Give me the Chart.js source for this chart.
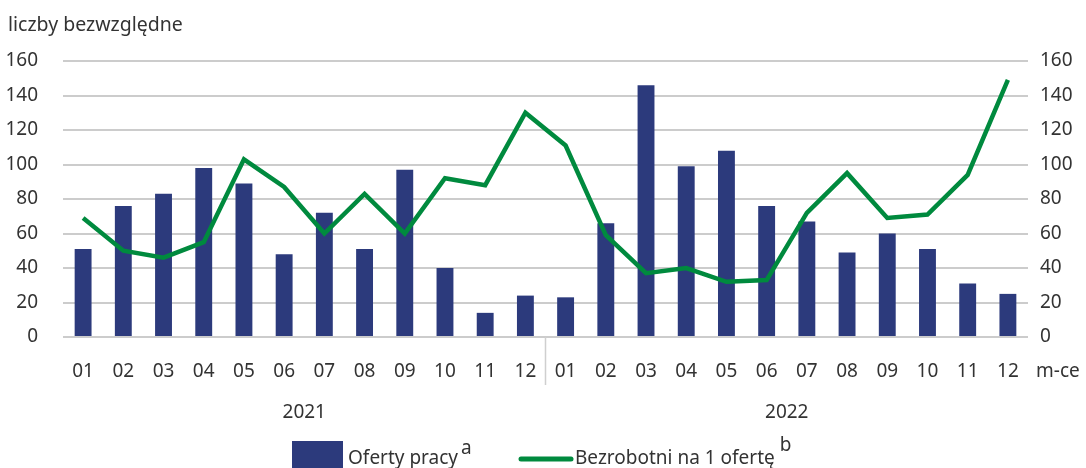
<!DOCTYPE html>
<html>
<head>
<meta charset="utf-8">
<script src="https://cdn.jsdelivr.net/npm/chart.js@4/dist/chart.umd.min.js"></script>
<style>
html,body{margin:0;padding:0;background:#fff;}
#wrap{width:1086px;height:468px;position:relative;}
</style>
</head>
<body>
<div id="wrap"><canvas id="c" width="1086" height="468"></canvas></div>
<script>
const months = ['01','02','03','04','05','06','07','08','09','10','11','12','01','02','03','04','05','06','07','08','09','10','11','12'];
const years = ['2021','2022'];
const yTicks = [0,20,40,60,80,100,120,140,160];
const ofertyPracy = [51,76,83,98,89,48,72,51,97,40,14,24, 23,66,146,99,108,76,67,49,60,51,31,25];
const bezrobotniNaOferte = [69,50,46,55,103,87,60,83,60,92,88,130, 111,59,37,40,32,33,72,95,69,71,94,149];

const FONT = '"Noto Sans", sans-serif';
const FS = 19;
const TXT = '#333333';
const NAVY = '#2c3a7c';
const GREEN = '#008a3e';

const extras = {
  id: 'extras',
  afterDraw(chart) {
    const ctx = chart.ctx;
    const x = chart.scales.x;
    const area = chart.chartArea;
    ctx.save();
    ctx.fillStyle = TXT;
    ctx.font = '19.5px ' + FONT;
    ctx.textBaseline = 'alphabetic';
    ctx.textAlign = 'left';
    ctx.fillText('liczby bezwzględne', 8, 31);
    // separator between years
    const sx = (x.getPixelForValue(11) + x.getPixelForValue(12)) / 2;
    ctx.strokeStyle = '#cfcfcf';
    ctx.lineWidth = 1.5;
    ctx.beginPath();
    ctx.moveTo(sx, area.bottom);
    ctx.lineTo(sx, area.bottom + 48);
    ctx.stroke();
    // year labels
    ctx.font = FS + 'px ' + FONT;
    ctx.textAlign = 'center';
    const y1c = (x.getPixelForValue(0) + x.getPixelForValue(11)) / 2;
    const y2c = (x.getPixelForValue(12) + x.getPixelForValue(23)) / 2;
    ctx.fillText(years[0], y1c, 418);
    ctx.fillText(years[1], y2c, 418);
    // m-ce
    ctx.textAlign = 'left';
    ctx.fillText('m-ce', 1036, 377);
    // legend
    ctx.fillStyle = NAVY;
    ctx.fillRect(292, 441, 51, 27);
    ctx.fillStyle = TXT;
    ctx.fillText('Oferty pracy', 348, 464);
    const w1 = ctx.measureText('Oferty pracy').width;
    ctx.fillText('a', 348 + w1 + 3, 454);
    ctx.strokeStyle = GREEN;
    ctx.lineWidth = 5;
    ctx.lineCap = 'round';
    ctx.beginPath();
    ctx.moveTo(521, 459);
    ctx.lineTo(571, 459);
    ctx.stroke();
    ctx.fillText('Bezrobotni na 1 ofertę', 575, 464);
    const w2 = ctx.measureText('Bezrobotni na 1 ofertę').width;
    ctx.fillText('b', 575 + w2 + 5, 451);
    ctx.restore();
  }
};

new Chart(document.getElementById('c'), {
  data: {
    labels: months,
    datasets: [
      {
        type: 'line',
        label: 'Bezrobotni na 1 ofertę',
        data: bezrobotniNaOferte,
        borderColor: GREEN,
        backgroundColor: GREEN,
        borderWidth: 4.5,
        pointRadius: 0,
        tension: 0,
        yAxisID: 'y1',
        order: 0
      },
      {
        type: 'bar',
        label: 'Oferty pracy',
        data: ofertyPracy,
        backgroundColor: NAVY,
        borderWidth: 0,
        barPercentage: 0.42,
        categoryPercentage: 1.0,
        yAxisID: 'y',
        order: 1
      }
    ]
  },
  options: {
    responsive: false,
    animation: false,
    devicePixelRatio: 1,
    layout: { padding: { top: 61, bottom: 0, left: 0, right: 0 } },
    plugins: { legend: { display: false }, tooltip: { enabled: false } },
    scales: {
      x: {
        grid: { display: false, drawTicks: false },
        border: { display: false },
        ticks: { color: TXT, font: { family: FONT, size: FS }, padding: 23, maxRotation: 0, autoSkip: false },
        afterFit(s) { s.height = 131; }
      },
      y: {
        position: 'left',
        min: 0, max: 160,
        afterBuildTicks(s) { s.ticks = yTicks.map(v => ({ value: v })); },
        grid: { color: '#cccccc', lineWidth: 2, drawTicks: false },
        border: { display: false },
        ticks: { color: TXT, font: { family: FONT, size: FS }, padding: 25 },
        afterFit(s) { s.width = 63; }
      },
      y1: {
        position: 'right',
        min: 0, max: 160,
        afterBuildTicks(s) { s.ticks = yTicks.map(v => ({ value: v })); },
        grid: { display: false, drawTicks: false },
        border: { display: false },
        ticks: { color: TXT, font: { family: FONT, size: FS }, padding: 12 },
        afterFit(s) { s.width = 58; }
      }
    }
  },
  plugins: [extras]
});
</script>
</body>
</html>
